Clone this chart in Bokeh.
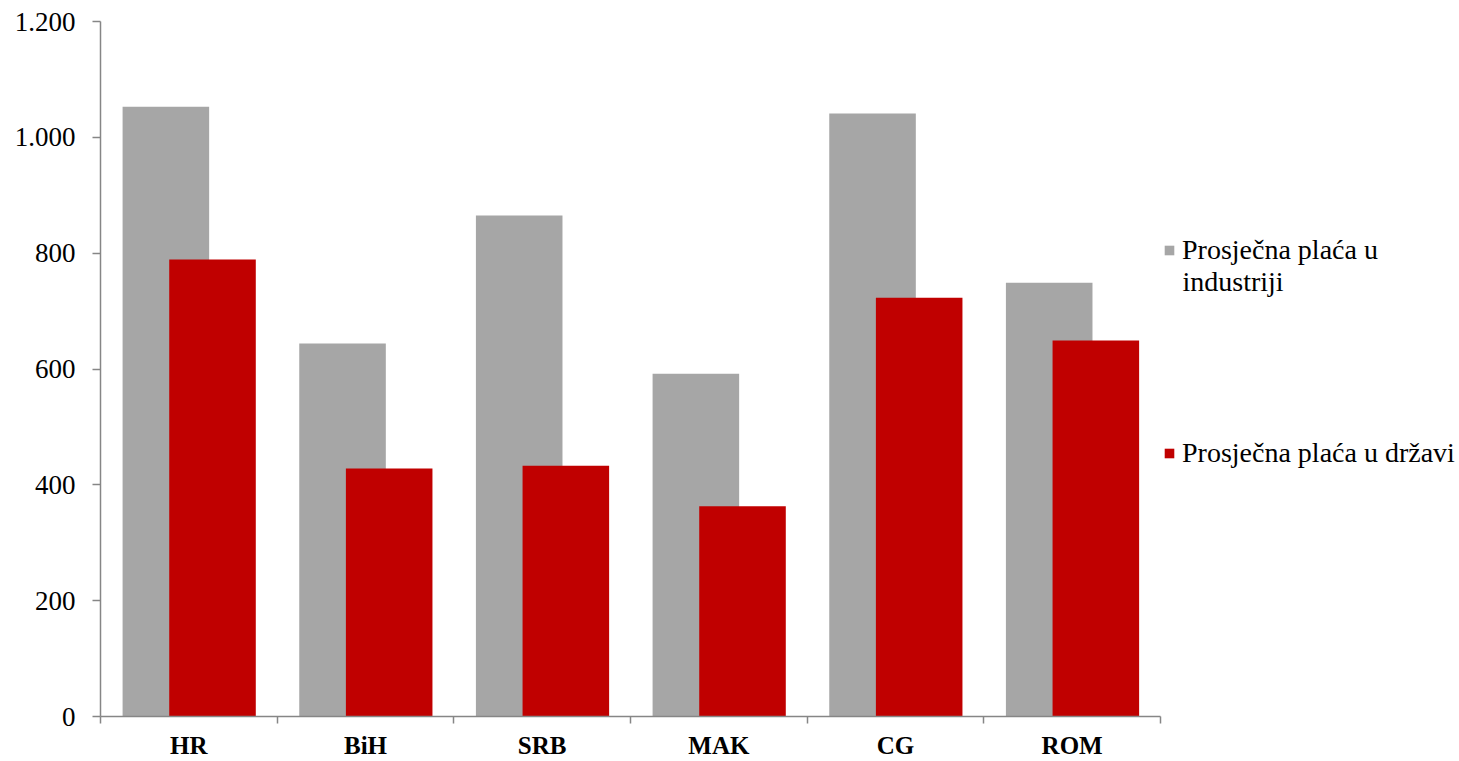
from bokeh.plotting import figure
from bokeh.models import (ColumnDataSource, FixedTicker, Range1d, Legend, LegendItem, Label)
from bokeh.embed import file_html
from bokeh.resources import INLINE

categories = ["HR", "BiH", "SRB", "MAK", "CG", "ROM"]
industry = [1053, 644, 865, 592, 1041, 749]
state = [789, 428, 433, 363, 723, 649]
y_ticks = [0, 200, 400, 600, 800, 1000, 1200]
y_tick_labels = ["0", "200", "400", "600", "800", "1.000", "1.200"]
legend_labels = ["Prosječna plaća u industriji", "Prosječna plaća u državi"]

GREY = "#A6A6A6"
RED = "#C00000"
AXIS = "#868686"
FONT = "Liberation Serif"

n = len(categories)
idx = list(range(n))
src = ColumnDataSource(dict(
    xg=[i + 0.37 for i in idx],
    xr=[i + 0.634 for i in idx],
    ind=industry,
    st=state,
))

# frame spans to the right edge; the axis is bounded to the categories
x_end = n * (1459 - 100) / 1060.0
p = figure(width=1459, height=761, output_backend="svg", toolbar_location=None,
           x_range=Range1d(0, x_end), y_range=Range1d(0, 1200),
           min_border_left=100, min_border_right=0, min_border_top=21,
           min_border_bottom=45)
p.outline_line_color = None
p.grid.visible = False
p.background_fill_color = "white"
p.border_fill_color = "white"

g = p.vbar(x="xg", top="ind", width=0.49, bottom=0, source=src,
           fill_color=GREY, line_color=None)
r = p.vbar(x="xr", top="st", width=0.49, bottom=0, source=src,
           fill_color=RED, line_color=None)

xa = p.xaxis[0]
xa.bounds = (0, n)
xa.ticker = FixedTicker(ticks=[i + 0.5 for i in idx], minor_ticks=list(range(n + 1)))
xa.major_label_overrides = {i + 0.5: c for i, c in enumerate(categories)}
xa.major_tick_out = 0
xa.major_tick_in = 0
xa.minor_tick_out = 7
xa.minor_tick_in = 0
xa.minor_tick_line_color = AXIS
xa.axis_line_color = AXIS
xa.axis_line_width = 1.5
xa.minor_tick_line_width = 1.5
xa.major_label_text_font = FONT
xa.major_label_text_font_style = "bold"
xa.major_label_text_font_size = "25px"
xa.major_label_text_color = "black"
xa.major_label_standoff = 8

ya = p.yaxis[0]
ya.ticker = FixedTicker(ticks=y_ticks)
ya.major_label_overrides = {t: l for t, l in zip(y_ticks, y_tick_labels)}
ya.major_tick_out = 8
ya.major_tick_in = 0
ya.minor_tick_out = 0
ya.minor_tick_in = 0
ya.major_tick_line_color = AXIS
ya.axis_line_color = AXIS
ya.axis_line_width = 1.5
ya.major_tick_line_width = 1.5
ya.major_label_text_font = FONT
ya.major_label_text_font_size = "27px"
ya.major_label_text_color = "black"
ya.major_label_standoff = 17

first_line, second_line = "Prosječna plaća u", "industriji"
for lab, ren, loc in [(first_line, g, (1063, 450)),
                      (legend_labels[1], r, (1063, 247))]:
    leg = Legend(items=[LegendItem(label=lab, renderers=[ren])], location=loc,
                 border_line_color=None, background_fill_alpha=0,
                 padding=0, margin=0, glyph_width=12, glyph_height=12,
                 label_standoff=7, label_text_font=FONT, label_text_font_size="28px",
                 label_text_color="black", label_height=30)
    p.add_layout(leg, "center")

p.add_layout(Label(x=1082, y=435, x_units="screen", y_units="screen",
                   text=second_line, text_font=FONT, text_font_size="28px",
                   text_color="black", text_baseline="middle"))

open("out.html", "w").write(file_html(p, INLINE))
